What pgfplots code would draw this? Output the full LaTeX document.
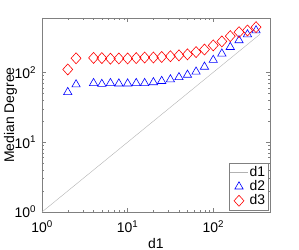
\documentclass[border=0pt]{standalone}
\usepackage{pgfplots}
\pgfplotsset{compat=1.18}
\usepackage{fontspec}
\setmainfont{Liberation Sans}
\begin{document}
\fontsize{14}{16}\selectfont
\begin{tikzpicture}
\useasboundingbox (-42bp,-38bp) rectangle (257bp,212bp);
\begin{axis}[
  at={(0,0)}, anchor=south west,
  scale only axis, width=228bp, height=194bp,
  xmode=log, ymode=log,
  xmin=1, xmax=460, ymin=1, ymax=600,
  xtick={1,10,100}, ytick={1,10,100},
  xticklabels={10\textsuperscript{0},10\textsuperscript{1},10\textsuperscript{2}},
  yticklabels={10\textsuperscript{0},10\textsuperscript{1},10\textsuperscript{2}},
  tick pos=both, tick align=inside,
  axis line style={draw=black!50},
  every tick/.style={draw=black!50},
  major tick length=4bp, minor tick length=2bp,
  tick label style={font=\fontsize{14}{16}\selectfont},
  xticklabel style={yshift=-4bp},
  yticklabel style={xshift=-1bp},
  xlabel={d1}, ylabel={Median Degree},
  label style={font=\fontsize{14}{16}\selectfont},
  xlabel style={yshift=4bp},
  ylabel style={at={(axis description cs:-0.138,0.5)}, anchor=center, rotate=0},
  legend style={draw=black!50, font=\fontsize{14}{16}\selectfont, at={(0.993,0.01)}, anchor=south east, inner sep=1bp, row sep=-2bp},
  legend cell align=left,
]
\addplot[black!30, no marks] coordinates {(1,1) (350,350)};
\addlegendentry{d1}
\addplot[only marks, blue, mark=triangle, mark size=4.8bp, mark options={line width=0.6pt}] coordinates {
(2,52) (2.5,67) (4,70) (5,68) (6.3,70) (7.9,69) (10,69) (12.6,70) (15.8,70) (20,72) (25,75) (31.6,79) (39.8,85) (50,92) (63,102) (79,120) (100,150) (126,185) (158,230) (200,287) (251,349) (316,398)};
\addlegendentry{d2}
\addplot[only marks, red, mark=diamond, mark size=5.5bp, mark options={line width=0.6pt, xscale=1.2}] coordinates {
(2,110) (2.5,159) (4,161) (5,160) (6.3,157) (7.9,158) (10,158) (12.6,160) (15.8,163) (20,163) (25,166) (31.6,170) (39.8,175) (50,181) (63,195) (79,212) (100,243) (126,277) (158,330) (200,376) (251,398) (316,444)};
\addlegendentry{d3}
\end{axis}
\end{tikzpicture}
\end{document}
